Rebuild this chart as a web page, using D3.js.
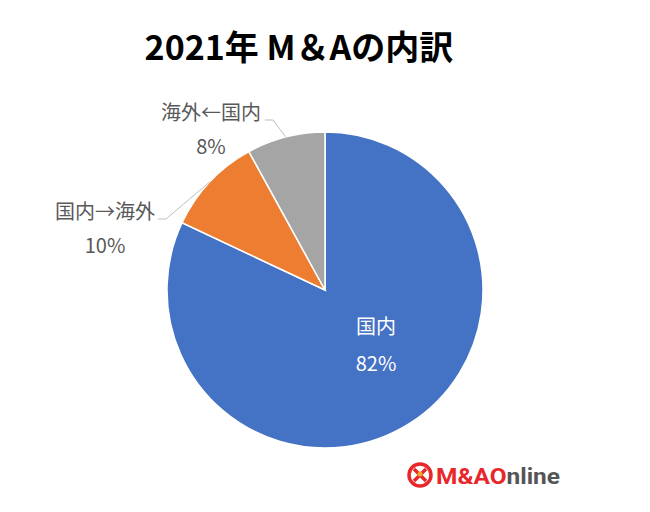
<!DOCTYPE html>
<html><head><meta charset="utf-8">
<script src="https://cdn.jsdelivr.net/npm/d3@7"></script>
<style>body{margin:0;background:#fff;}svg{display:block;}</style>
</head><body>
<svg id="c" width="650" height="512"></svg>
<script>
const categories = ["国内", "国内→海外", "海外←国内"];
const values = [82, 10, 8];
const colors = ["#4472C4", "#ED7D31", "#A5A5A5"];
const title = "2021年 M＆Aの内訳";

const svg = d3.select("#c");
const W = 650, H = 512;
const cx = 325, cy = 290, r = 158;
const font = "'Noto Sans CJK JP', 'Noto Sans', sans-serif";

svg.append("rect").attr("width", W).attr("height", H).attr("fill", "#fff");

svg.append("text").attr("x", 299).attr("y", 60).attr("text-anchor", "middle")
  .attr("font-family", font).attr("font-weight", "bold").attr("font-size", 34)
  .attr("fill", "#000").text(title);

const pie = d3.pie().sort(null).value(d => d)(values);
const arc = d3.arc().innerRadius(0).outerRadius(r);
const g = svg.append("g").attr("transform", `translate(${cx},${cy})`);
g.selectAll("path").data(pie).join("path")
  .attr("d", arc).attr("fill", (d, i) => colors[i])
  .attr("stroke", "#fff").attr("stroke-width", 1.5);

// label centre positions (relative to pie centre)
const labelPos = [
  {x: 51, y: 37, gap: 37, color: "#fff", leader: false},
  {x: -220, y: -78, gap: 34, color: "#595959", leader: true, lx: -167, ly: -71},
  {x: -114, y: -177, gap: 34, color: "#595959", leader: true, lx: -60, ly: -170}
];
pie.forEach((d, i) => {
  const p = labelPos[i];
  const t = g.append("text").attr("text-anchor", "middle")
    .attr("font-family", font).attr("font-size", 20).attr("fill", p.color);
  t.append("tspan").attr("x", p.x).attr("y", p.y + 7).text(categories[i]);
  t.append("tspan").attr("x", p.x).attr("y", p.y + p.gap + 7).text(d3.format(".0f")(values[i]) + "%");
  if (p.leader) {
    const a = (d.startAngle + d.endAngle) / 2;
    const ex = r * Math.sin(a), ey = -r * Math.cos(a);
    g.append("polyline")
      .attr("points", `${p.lx},${p.ly} ${p.lx + 8},${p.ly} ${ex},${ey}`)
      .attr("fill", "none").attr("stroke", "#BFBFBF").attr("stroke-width", 1);
  }
});

// logo
const lg = svg.append("g").attr("transform", "translate(420,475)");
lg.append("circle").attr("r", 11).attr("fill", "none").attr("stroke", "#E8272A").attr("stroke-width", 3.5);
lg.append("path").attr("d", "M-6,-6 L6,6 M6,-6 L-6,6").attr("stroke", "#E8272A").attr("stroke-width", 3.5);
lg.append("circle").attr("r", 2.5).attr("cy", -1).attr("fill", "#F5A623");
const lt = svg.append("text").attr("x", 436).attr("y", 484)
  .attr("font-family", "'Roboto', 'Noto Sans', sans-serif").attr("font-weight", "bold")
  .attr("font-size", 22).attr("textLength", 124).attr("lengthAdjust", "spacingAndGlyphs");
lt.append("tspan").attr("fill", "#E8272A").text("M&AO");
lt.append("tspan").attr("fill", "#555").text("nline");
</script>
</body></html>
